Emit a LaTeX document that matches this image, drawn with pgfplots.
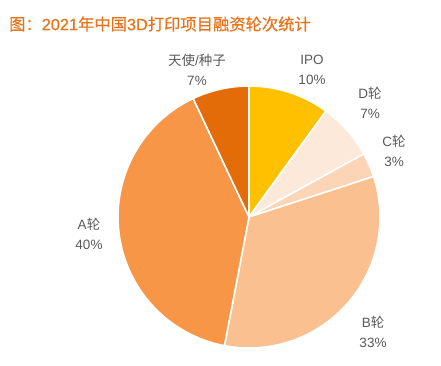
\documentclass[border=0pt]{standalone}
\usepackage{fontspec}
\setmainfont{Liberation Sans}
\newfontfamily\cjk{Noto Sans CJK SC}
\newfontfamily\cjkt{Noto Sans CJK SC}[FakeBold=0.5]
\newfontfamily\latt{Liberation Sans}[FakeBold=0.5]
\usepackage{pgfplots}
\pgfplotsset{compat=1.18}
\definecolor{cIPO}{HTML}{FFC000}
\definecolor{cD}{HTML}{FDE9D9}
\definecolor{cC}{HTML}{FBD5B5}
\definecolor{cB}{HTML}{FAC090}
\definecolor{cA}{HTML}{F79646}
\definecolor{cT}{HTML}{E36C09}
\definecolor{ctitle}{HTML}{E8731A}
\definecolor{clab}{HTML}{595959}
\begin{document}
\begin{tikzpicture}
\begin{axis}[width=441pt,height=365pt,scale only axis,
  xmin=0,xmax=441,ymin=0,ymax=365,hide axis,clip=false]
% cumulative shares (percent): IPO 10, D 7, C 3, B 33, A 40, Angel 7
\addplot[fill=cIPO,draw=white,line width=1.6pt,domain=0:10,samples=30]
  ({249+131*sin(3.6*x)},{148+131*cos(3.6*x)}) -- (axis cs:249,148) -- cycle;
\addplot[fill=cD,draw=white,line width=1.6pt,domain=10:17,samples=25]
  ({249+131*sin(3.6*x)},{148+131*cos(3.6*x)}) -- (axis cs:249,148) -- cycle;
\addplot[fill=cC,draw=white,line width=1.6pt,domain=17:20,samples=15]
  ({249+131*sin(3.6*x)},{148+131*cos(3.6*x)}) -- (axis cs:249,148) -- cycle;
\addplot[fill=cB,draw=white,line width=1.6pt,domain=20:53,samples=80]
  ({249+131*sin(3.6*x)},{148+131*cos(3.6*x)}) -- (axis cs:249,148) -- cycle;
\addplot[fill=cA,draw=white,line width=1.6pt,domain=53:93,samples=90]
  ({249+131*sin(3.6*x)},{148+131*cos(3.6*x)}) -- (axis cs:249,148) -- cycle;
\addplot[fill=cT,draw=white,line width=1.6pt,domain=93:100,samples=25]
  ({249+131*sin(3.6*x)},{148+131*cos(3.6*x)}) -- (axis cs:249,148) -- cycle;
\begin{scope}[every node/.style={align=center,text=clab,inner sep=0pt,
   font=\fontsize{13.5}{20.5}\selectfont}]
\node at (axis cs:312,295) {IPO\\10\%};
\node at (axis cs:370,262) {D{\cjk 轮}\\7\%};
\node at (axis cs:394,214) {C{\cjk 轮}\\3\%};
\node at (axis cs:373,33) {B{\cjk 轮}\\33\%};
\node at (axis cs:89,131) {A{\cjk 轮}\\40\%};
\node at (axis cs:197,295) {{\cjk 天使}/{\cjk 种子}\\7\%};
\end{scope}
\node[anchor=west,inner sep=0pt,text=ctitle,font=\fontsize{16.3}{18}\selectfont]
  at (axis cs:9,341) {{\cjkt 图：}{\latt 2021}{\cjkt 年中国}{\latt 3D}{\cjkt 打印项目融资轮次统计}};
\end{axis}
\path (current axis.south west) rectangle (current axis.north east);
\end{tikzpicture}
\end{document}
